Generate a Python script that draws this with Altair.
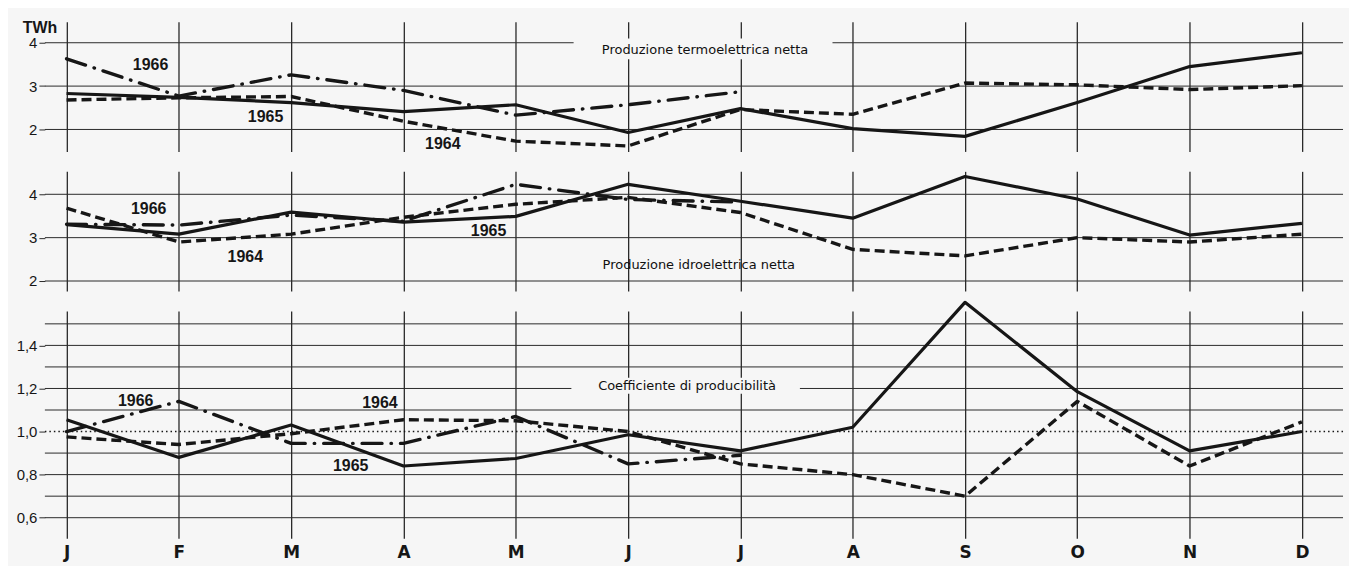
import altair as alt
import pandas as pd

months = ["J", "F", "M", "A", "M", "J", "J", "A", "S", "O", "N", "D"]
month_idx = list(range(12))
years = ["1964", "1965", "1966"]

# Produzione termoelettrica netta (TWh)
termo_1964 = [2.68, 2.73, 2.76, 2.19, 1.73, 1.62, 2.46, 2.35, 3.07, 3.03, 2.92, 3.01]
termo_1965 = [2.83, 2.74, 2.62, 2.41, 2.57, 1.93, 2.48, 2.02, 1.84, 2.62, 3.45, 3.77]
termo_1966 = [3.63, 2.77, 3.26, 2.90, 2.33, 2.57, 2.87]

# Produzione idroelettrica netta (TWh)
idro_1964 = [3.68, 2.90, 3.08, 3.47, 3.77, 3.93, 3.58, 2.73, 2.58, 3.00, 2.90, 3.08]
idro_1965 = [3.30, 3.08, 3.59, 3.36, 3.49, 4.23, 3.84, 3.45, 4.41, 3.89, 3.06, 3.33]
idro_1966 = [3.31, 3.29, 3.52, 3.38, 4.23, 3.88, 3.82]

# Coefficiente di producibilità
coef_1964 = [0.975, 0.94, 0.99, 1.055, 1.05, 1.00, 0.85, 0.80, 0.70, 1.14, 0.84, 1.045]
coef_1965 = [1.055, 0.88, 1.03, 0.84, 0.875, 0.985, 0.91, 1.02, 1.60, 1.185, 0.91, 1.00]
coef_1966 = [1.00, 1.14, 0.945, 0.945, 1.07, 0.85, 0.89]

# gridlines / axis labels
termo_grid = [2, 3, 4]
idro_grid = [2, 3, 4]
coef_grid = [0.6, 0.7, 0.8, 0.9, 1.1, 1.2, 1.3, 1.4, 1.5]
coef_ref = [1.0]
coef_labels = [0.6, 0.8, 1.0, 1.2, 1.4]

# annotations (month index, value, text)
termo_notes_m = [0.748, 1.772, 3.35]
termo_notes_v = [3.49, 2.276, 1.655]
termo_notes_t = ["1966", "1965", "1964"]
idro_notes_m = [0.731, 1.592, 3.758]
idro_notes_v = [3.655, 2.552, 3.149]
idro_notes_t = ["1966", "1964", "1965"]
coef_notes_m = [0.615, 2.79, 2.53]
coef_notes_v = [1.143, 1.134, 0.838]
coef_notes_t = ["1966", "1964", "1965"]

titles = ["Produzione termoelettrica netta", "Produzione idroelettrica netta",
          "Coefficiente di producibilità"]
title_m = [5.685, 5.63, 5.525]
title_v = [3.84, 2.37, 1.213]
box_m = [[4.515, 6.82], None, [4.495, 6.53]]
box_v = [[3.62, 4.1], None, [1.175, 1.25]]

BG = "#f6f6f6"
INK = "#161616"
GRID = "#2a2a2a"
XDOM = [-0.193, 11.366]
W = 1302

label_expr_months = "[" + ",".join(f"'{m}'" for m in months) + "][datum.value]"


def xenc(show, field="m"):
    if show:
        ax = alt.Axis(values=month_idx, grid=True, gridColor=GRID, gridWidth=1.3,
                      ticks=False, domain=False, labelExpr=label_expr_months,
                      labelFont="DejaVu Sans", labelFontWeight="bold", labelFontSize=17,
                      labelColor=INK, labelPadding=6, title=None)
    else:
        ax = alt.Axis(values=month_idx, grid=True, gridColor=GRID, gridWidth=1.3,
                      ticks=False, domain=False, labels=False, title=None)
    return alt.X(f"{field}:Q", scale=alt.Scale(domain=XDOM, nice=False, zero=False), axis=ax)


def yenc(domain, vals, expr, field="v"):
    ax = alt.Axis(values=vals, labelExpr=expr, grid=False, domain=False, ticks=True,
                  tickSize=6, tickColor=GRID, labelFont="Liberation Sans", labelFontSize=15,
                  labelColor=INK, labelPadding=2, title=None, minExtent=32, maxExtent=32)
    return alt.Y(f"{field}:Q", scale=alt.Scale(domain=domain, nice=False, zero=False), axis=ax)


def panel(series, domain, height, grid_vals, lab_vals, lab_expr, show_x,
          nm, nv, nt, idx, dotted=None, extra=None):
    X = xenc(show_x)
    Y = yenc(domain, lab_vals, lab_expr)
    layers = []
    grid_df = pd.DataFrame({"v": grid_vals})
    layers.append(alt.Chart(grid_df).mark_rule(color=GRID, strokeWidth=1).encode(y=Y))
    if dotted:
        layers.append(alt.Chart(pd.DataFrame({"v": dotted})).mark_rule(
            color=INK, strokeWidth=1.6, strokeDash=[1.5, 3]).encode(y=Y))
    if box_m[idx] is not None:
        bdf = pd.DataFrame({"m": [box_m[idx][0]], "m2": [box_m[idx][1]],
                            "v": [box_v[idx][0]], "v2": [box_v[idx][1]]})
        layers.append(alt.Chart(bdf).mark_rect(color=BG).encode(
            x=X, x2="m2:Q", y=Y, y2="v2:Q"))
    tdf = pd.DataFrame({"m": [title_m[idx]], "v": [title_v[idx]], "t": [titles[idx]]})
    layers.append(alt.Chart(tdf).mark_text(font="DejaVu Sans", fontSize=13, color="#111",
                                           align="center", baseline="middle").encode(
        x=X, y=Y, text="t:N"))
    styles = {
        "1964": dict(strokeDash=[10, 5], strokeWidth=3.4, strokeCap="butt"),
        "1965": dict(strokeWidth=3.2),
        "1966": dict(strokeDash=[20, 9, 0.5, 9], strokeWidth=3.4, strokeCap="round"),
    }
    for y, vals in zip(years, series):
        df = pd.DataFrame({"m": month_idx[:len(vals)], "v": vals})
        layers.append(alt.Chart(df).mark_line(color=INK, strokeJoin="round", **styles[y]).encode(
            x=X, y=Y))
    ndf = pd.DataFrame({"m": nm, "v": nv, "t": nt})
    layers.append(alt.Chart(ndf).mark_text(font="Liberation Sans", fontWeight="bold",
                                           fontSize=16, color=INK, align="center",
                                           baseline="middle").encode(x=X, y=Y, text="t:N"))
    if extra is not None:
        layers.append(alt.Chart(extra).mark_text(font="Liberation Sans", fontWeight="bold",
                                                 fontSize=16, color=INK, align="center",
                                                 baseline="alphabetic").encode(x=X, y=Y, text="t:N"))
    return alt.layer(*layers).properties(width=W, height=height)


twh = pd.DataFrame({"m": [-0.237], "v": [4.22], "t": ["TWh"]})

p1 = panel([termo_1964, termo_1965, termo_1966], [1.494, 4.483], 130, termo_grid,
           termo_grid, "format(datum.value, 'd')", False,
           termo_notes_m, termo_notes_v, termo_notes_t, 0, extra=twh)
p2 = panel([idro_1964, idro_1965, idro_1966], [1.770, 4.529], 120, idro_grid,
           idro_grid, "format(datum.value, 'd')", False,
           idro_notes_m, idro_notes_v, idro_notes_t, 1)
p3 = panel([coef_1964, coef_1965, coef_1966], [0.5046, 1.560], 228, coef_grid,
           coef_labels, "replace(format(datum.value, '.1f'), '.', ',')", True,
           coef_notes_m, coef_notes_v, coef_notes_t, 2, dotted=coef_ref)

chart = alt.vconcat(p1, p2, p3, spacing=20, bounds="flush").properties(
    padding={"left": 5, "top": 11, "right": 5, "bottom": 5}
).configure(background=BG).configure_view(strokeWidth=0)

chart.save("out.html", embed_options={"renderer": "svg", "actions": False})
